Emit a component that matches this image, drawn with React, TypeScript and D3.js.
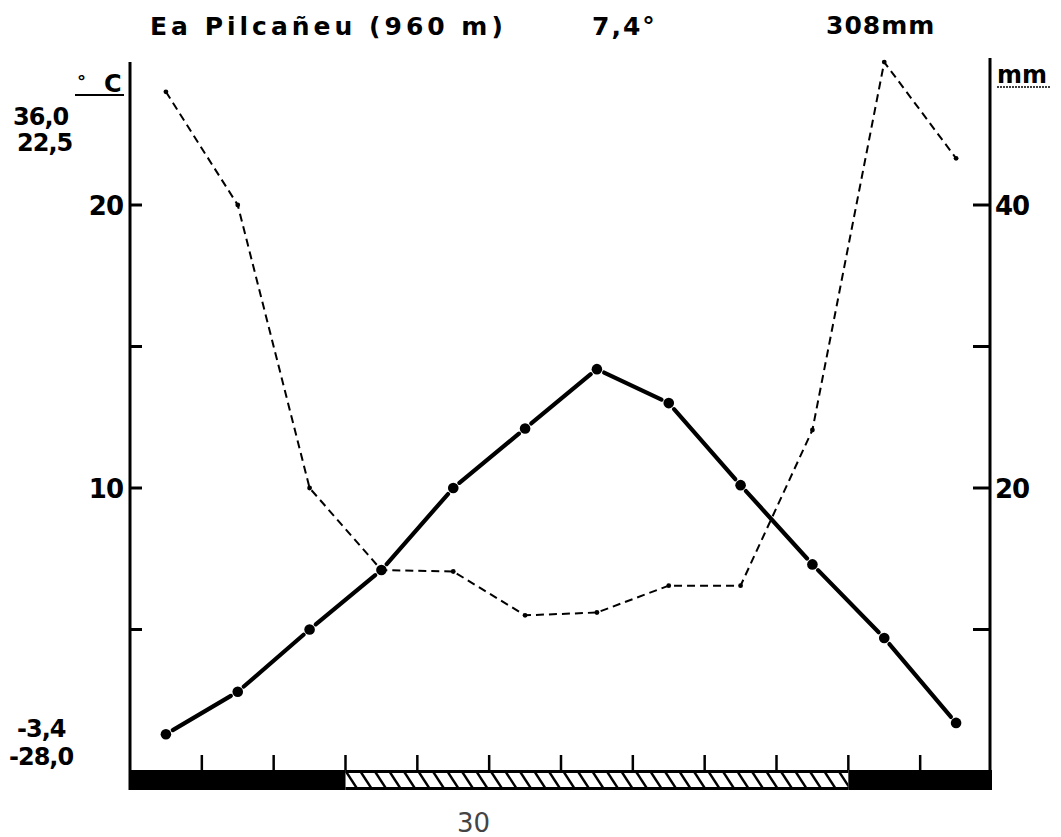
import React from 'react';
import * as d3 from 'd3';

const width = 1061;
const height = 837;

// monthly means, July -> June (southern hemisphere layout)
const months = ['J', 'A', 'S', 'O', 'N', 'D', 'E', 'F', 'M', 'A', 'M', 'J'];
const temperature = [1.3, 2.8, 5.0, 7.1, 10.0, 12.1, 14.2, 13.0, 10.1, 7.3, 4.7, 1.7];
const precipitation = [48.0, 40.0, 20.0, 14.2, 14.1, 11.0, 11.2, 13.1, 13.1, 24.1, 50.1, 43.3];
// frost: 'sure' = black, 'prob' = hatched
const frost = ['sure', 'sure', 'sure', 'prob', 'prob', 'prob', 'prob', 'prob', 'prob', 'prob', 'sure', 'sure'];

const tempTicks = [5, 10, 15, 20];
const tempLabels = [10, 20];
const precTicks = [10, 20, 30, 40];
const precLabels = [20, 40];
const topExtremes = ['36,0', '22,5'];
const bottomExtremes = ['-3,4', '-28,0'];

const font = '"DejaVu Sans", sans-serif';

const App = () => {
  const idx = d3.range(months.length);
  const x = d3.scaleBand<number>().domain(idx).range([130, 992]);
  const xc = (i: number) => (x(i) as number) + x.bandwidth() / 2;
  const yT = d3.scaleLinear().domain([0, 20]).range([771, 205]);
  const yP = d3.scaleLinear().domain([0, 40]).range([771, 205]);

  const barTop = 770;
  const barBottom = 790;

  // temperature segments stop short of the dots
  const gap = 8;
  const segs = idx.slice(1).map((i) => {
    const x0 = xc(i - 1), y0 = yT(temperature[i - 1]);
    const x1 = xc(i), y1 = yT(temperature[i]);
    const len = Math.hypot(x1 - x0, y1 - y0);
    const ux = (x1 - x0) / len, uy = (y1 - y0) / len;
    return { x0: x0 + ux * gap, y0: y0 + uy * gap, x1: x1 - ux * gap, y1: y1 - uy * gap };
  });

  const precLine = d3.line<number>()
    .x((d, i) => xc(i))
    .y((d) => yP(d));

  // contiguous runs of the frost bar
  const runs: { type: string; start: number; end: number }[] = [];
  frost.forEach((f, i) => {
    const last = runs[runs.length - 1];
    if (last && last.type === f) last.end = i;
    else runs.push({ type: f, start: i, end: i });
  });
  const runX0 = (r: { start: number }) => x(r.start) as number;
  const runX1 = (r: { end: number }) => (x(r.end) as number) + x.bandwidth();

  const hatchRun = runs.find((r) => r.type === 'prob')!;
  const hatchStart = runX0(hatchRun);
  const hatchEnd = runX1(hatchRun);
  const hatchLines = d3.range(hatchStart - 15, hatchEnd + 15, 14.5);

  return (
    <div style={{ position: 'absolute', left: 0, top: 0 }}>
      <svg width={width} height={height} style={{ display: 'block', background: '#fff' }}>
        <defs>
          <clipPath id="hatchclip">
            <rect x={hatchStart} y={barTop} width={hatchEnd - hatchStart} height={barBottom - barTop} />
          </clipPath>
        </defs>

        {/* title */}
        <g fontFamily={font} fontWeight="bold" fontSize={25} fill="#000">
          <text x={150} y={35} letterSpacing={4}>Ea  Pilcañeu  (960 m)</text>
          <text x={592} y={35} letterSpacing={2}>7,4°</text>
          <text x={826} y={34} letterSpacing={1}>308mm</text>
        </g>

        {/* axes */}
        <line x1={130} x2={130} y1={62} y2={barBottom} stroke="#000" strokeWidth={3} />
        <line x1={990} x2={990} y1={58} y2={barBottom} stroke="#000" strokeWidth={3} />
        {tempTicks.map((t) => (
          <line key={'tt' + t} x1={130} x2={142} y1={yT(t)} y2={yT(t)} stroke="#000" strokeWidth={3} />
        ))}
        {precTicks.map((t) => (
          <line key={'pt' + t} x1={973} x2={990} y1={yP(t)} y2={yP(t)} stroke="#000" strokeWidth={3} />
        ))}
        <g fontFamily={font} fontWeight="bold" fontSize={26} fill="#000" letterSpacing={-1}>
          {tempLabels.map((t) => (
            <text key={'tl' + t} x={123} y={yT(t) + 10} textAnchor="end">{t}</text>
          ))}
          {precLabels.map((t) => (
            <text key={'pl' + t} x={995} y={yP(t) + 10}>{t}</text>
          ))}
        </g>

        {/* units */}
        <g fontFamily={font} fontWeight="bold" fontSize={24} fill="#000">
          <text x={77} y={88} fontSize={18}>°</text>
          <text x={104} y={92}>C</text>
          <line x1={75} x2={124} y1={95} y2={95} stroke="#000" strokeWidth={2} />
          <text x={997} y={83}>mm</text>
          <line x1={997} x2={1051} y1={87} y2={87} stroke="#000" strokeWidth={1.5} strokeDasharray="2 1" />
        </g>

        {/* extremes */}
        <g fontFamily={font} fontWeight="bold" fontSize={24} fill="#000" letterSpacing={-1}>
          {topExtremes.map((s, i) => (
            <text key={s} x={[13, 17][i]} y={125 + i * 26}>{s}</text>
          ))}
          {bottomExtremes.map((s, i) => (
            <text key={s} x={[17, 9][i]} y={737 + i * 28}>{s}</text>
          ))}
        </g>

        {/* precipitation */}
        <path d={precLine(precipitation) || ''} fill="none" stroke="#000" strokeWidth={2} strokeDasharray="8 5" />
        {precipitation.map((p, i) => (
          <circle key={'pd' + i} cx={xc(i)} cy={yP(p)} r={2.4} fill="#000" />
        ))}

        {/* temperature */}
        {segs.map((s, i) => (
          <line key={'ts' + i} x1={s.x0} y1={s.y0} x2={s.x1} y2={s.y1} stroke="#000" strokeWidth={4.2} strokeLinecap="round" />
        ))}
        {temperature.map((t, i) => (
          <circle key={'td' + i} cx={xc(i)} cy={yT(t)} r={5.3} fill="#000" />
        ))}

        {/* frost bar */}
        {runs.filter((r) => r.type === 'sure').map((r) => (
          <rect key={'fb' + r.start} x={runX0(r)} y={barTop} width={runX1(r) - runX0(r)} height={barBottom - barTop} fill="#000" />
        ))}
        <g clipPath="url(#hatchclip)">
          {hatchLines.map((hx) => (
            <line key={'h' + hx} x1={hx} y1={barTop} x2={hx + 13} y2={barBottom} stroke="#000" strokeWidth={2.4} />
          ))}
        </g>
        <line x1={hatchStart} x2={hatchEnd} y1={barTop + 1.5} y2={barTop + 1.5} stroke="#000" strokeWidth={3} />
        <line x1={hatchStart} x2={hatchEnd} y1={barBottom - 1.5} y2={barBottom - 1.5} stroke="#000" strokeWidth={3} />
        {idx.slice(1).map((i) => (
          <line key={'mt' + i} x1={x(i) as number} x2={x(i) as number} y1={755} y2={barTop} stroke="#000" strokeWidth={2.5} />
        ))}

        {/* page number */}
        <text x={457} y={832} fontFamily={font} fontSize={26} fill="#444">30</text>
      </svg>
    </div>
  );
};

export default App;
